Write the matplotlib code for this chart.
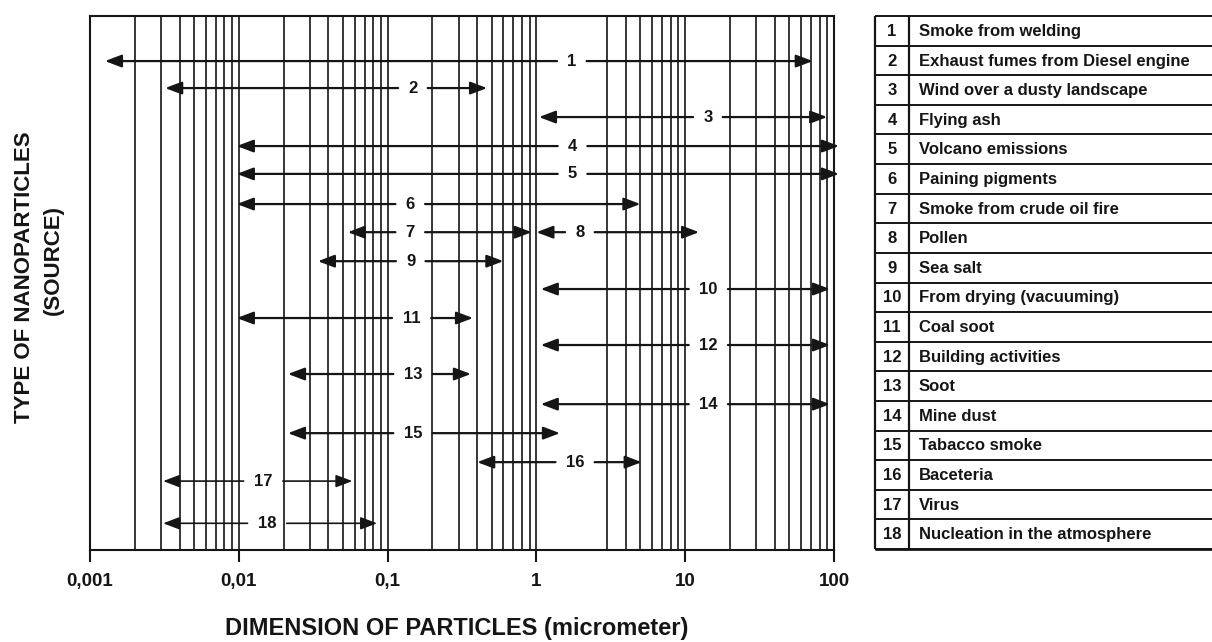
import matplotlib
matplotlib.use("Agg")
import matplotlib.pyplot as plt
import numpy as np
from matplotlib.ticker import FixedLocator, NullLocator

plt.rcParams["font.family"] = ["Liberation Sans", "DejaVu Sans"]
plt.rcParams["font.weight"] = "bold"

# particle size ranges (micrometer) for each source
source_ids = list(range(1, 19))
range_low = [0.00126, 0.0032, 1.04, 0.0097, 0.0097, 0.0097, 0.054, 1.0, 0.034,
             1.07, 0.0097, 1.07, 0.0214, 1.07, 0.0214, 0.40, 0.0031, 0.0031]
range_high = [72, 0.466, 90, 108, 108, 5.0, 0.93, 12.4, 0.60,
              94, 0.375, 94, 0.363, 94, 1.44, 5.1, 0.058, 0.085]
# vertical slot of each arrow (row units from the top)
row_pos = [1.57, 2.51, 3.52, 4.53, 5.5, 6.55, 7.53, 7.53, 8.54,
           9.51, 10.52, 11.46, 12.47, 13.52, 14.53, 15.54, 16.2, 17.67]
# where the number label sits on each arrow
label_pos = [1.73, 0.148, 14.2, 1.75, 1.75, 0.142, 0.142, 1.96, 0.143,
             14.3, 0.145, 14.3, 0.148, 14.3, 0.148, 1.82, 0.0146, 0.0155]

source_names = [
    "Smoke from welding",
    "Exhaust fumes from Diesel engine",
    "Wind over a dusty landscape",
    "Flying ash",
    "Volcano emissions",
    "Paining pigments",
    "Smoke from crude oil fire",
    "Pollen",
    "Sea salt",
    "From drying (vacuuming)",
    "Coal soot",
    "Building activities",
    "Soot",
    "Mine dust",
    "Tabacco smoke",
    "Baceteria",
    "Virus",
    "Nucleation in the atmosphere",
]

tick_values = [0.001, 0.01, 0.1, 1, 10, 100]
tick_labels = ["0,001", "0,01", "0,1", "1", "10", "100"]

ink = "#151515"
px_per_decade = 744 / 5


def half_gap(label):
    # half width of the break left in the arrow shaft, in decades
    return (len(label) * 4.8 + 10) / px_per_decade


fig = plt.figure(figsize=(12.12, 6.42), dpi=100)
ax = fig.add_axes([90 / 1212, 92 / 642, 744 / 1212, 534 / 642])
ax.set_xscale("log")
ax.set_xlim(0.001, 100)
ax.set_ylim(18.6, 0)

# log-paper style vertical lines
grid_values = []
for exp in range(-3, 2):
    for m in range(1, 10):
        if m == 1 and exp == -3:
            continue
        if m == 2 and exp == 0:
            continue  # line absent in the original
        grid_values.append(m * 10.0 ** exp)
ax.vlines(grid_values, 0, 18.6, colors=ink, lw=1.2, zorder=1)

for i, sid in enumerate(source_ids):
    lw = 1.2 if sid >= 17 else 1.6
    lab = str(sid)
    g = 10 ** half_gap(lab)
    style = dict(
        arrowstyle="-|>,head_length=0.5,head_width=0.19",
        mutation_scale=20, lw=lw, color=ink, shrinkA=0, shrinkB=0,
    )
    ax.annotate("", xy=(range_low[i], row_pos[i]),
                xytext=(label_pos[i] / g, row_pos[i]),
                arrowprops=style, annotation_clip=False, zorder=3)
    ax.annotate("", xy=(range_high[i], row_pos[i]),
                xytext=(label_pos[i] * g, row_pos[i]),
                arrowprops=style, annotation_clip=False, zorder=3)
    ax.text(label_pos[i], row_pos[i], lab, ha="center", va="center",
            fontsize=12, fontweight="bold", color=ink, zorder=4)

for side in ["top", "right", "left", "bottom"]:
    ax.spines[side].set_linewidth(1.5)
    ax.spines[side].set_color(ink)
ax.xaxis.set_major_locator(FixedLocator(tick_values))
ax.xaxis.set_minor_locator(NullLocator())
ax.set_xticklabels(tick_labels)
ax.tick_params(axis="x", direction="out", length=8.5, width=1.5, pad=8,
               labelsize=13.5, colors=ink)
ax.set_yticks([])
for t in ax.get_xticklabels():
    t.set_fontweight("bold")

fig.text(457 / 1212, 1 - 628 / 642, "DIMENSION OF PARTICLES (micrometer)",
         ha="center", va="center", fontsize=17, fontweight="bold", color=ink)
fig.text(25 / 1212, 1 - 277 / 642, "TYPE OF NANOPARTICLES", rotation=90,
         ha="center", va="center", fontsize=16, fontweight="bold", color=ink)
fig.text(53 / 1212, 1 - 260 / 642, "(SOURCE)", rotation=90,
         ha="center", va="center", fontsize=16, fontweight="bold", color=ink)

# legend table on the right
tax = fig.add_axes([875 / 1212, 93 / 642, 337 / 1212, 533 / 642])
tax.set_xlim(0, 337)
tax.set_ylim(len(source_ids), 0)
tax.axis("off")
tax.hlines(np.arange(len(source_ids) + 1), 0, 337, colors=ink, lw=1.4,
           clip_on=False)
tax.hlines([len(source_ids)], 0, 337, colors=ink, lw=2.0, clip_on=False)
tax.vlines([0, 34], 0, len(source_ids), colors=ink, lw=1.6, clip_on=False)
for i, (sid, name) in enumerate(zip(source_ids, source_names)):
    tax.text(17, i + 0.52, str(sid), ha="center", va="center",
             fontsize=12, fontweight="bold", color=ink)
    tax.text(44, i + 0.52, name, ha="left", va="center",
             fontsize=12, fontweight="bold", color=ink)

fig.savefig("out.png", dpi=100)
